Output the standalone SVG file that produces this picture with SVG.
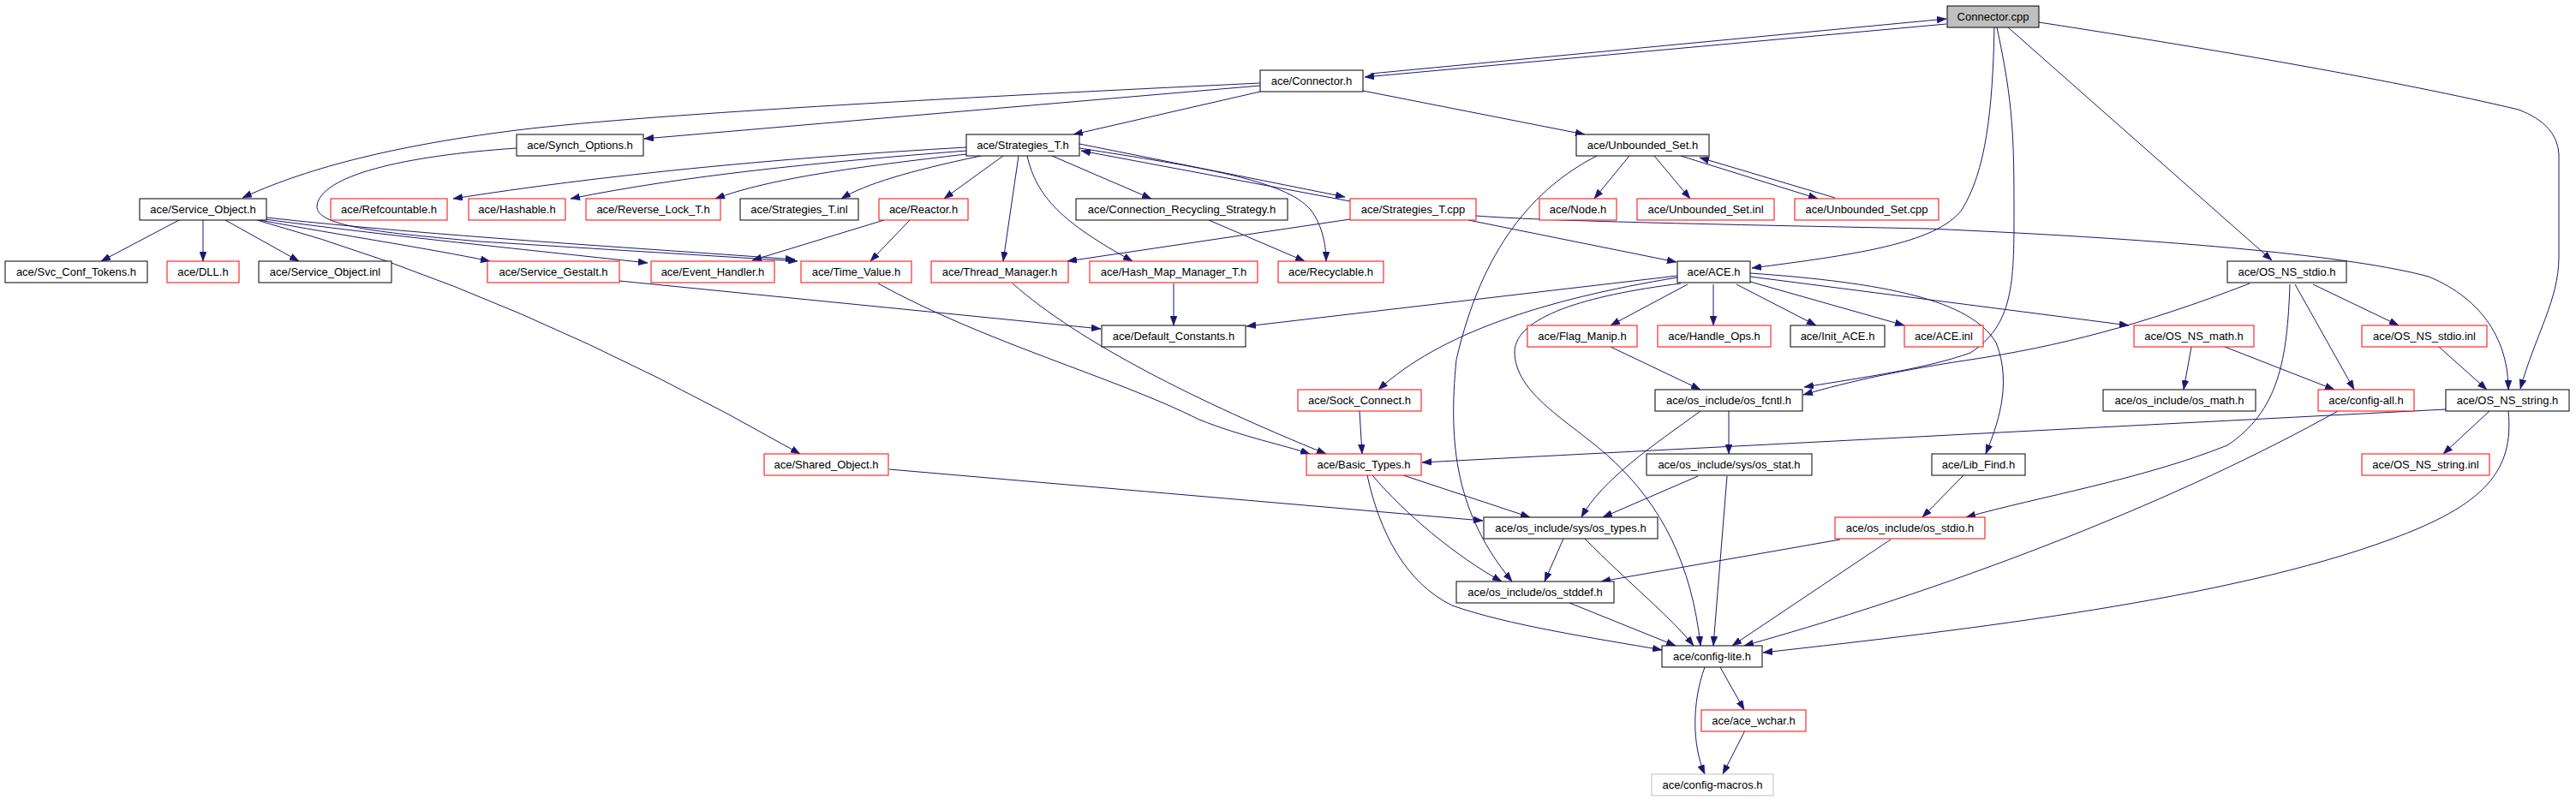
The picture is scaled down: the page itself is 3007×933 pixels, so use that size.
<svg xmlns="http://www.w3.org/2000/svg" width="3007" height="933" viewBox="0 0 3007 933">
<style>
.n rect{fill:#fff;stroke:#000;stroke-width:1}
.n.r rect{stroke:#f00}
.n.g rect{stroke:#bfbfbf}
.n.root rect{fill:#bfbfbf}
.n text{font-family:"Liberation Sans",Arial,sans-serif;font-size:13px;fill:#000;text-anchor:middle}
.e path{fill:none;stroke:#191970;stroke-width:1;marker-end:url(#a)}
</style>
<defs>
<marker id="a" markerWidth="11" markerHeight="8" refX="11" refY="4" orient="auto" markerUnits="userSpaceOnUse">
<path d="M0,0 L11,4 L0,8 z" fill="#191970" stroke="#191970" stroke-width="0.5"/>
</marker>
</defs>
<rect width="3007" height="933" fill="#fff"/>
<g class="e" id="edges">
<path d="M1600,86 L2272,22"/>
<path d="M2272,28 L1593,90"/>
<path d="M2328,32 C2326,130 2318,200 2290,245 C2260,285 2160,298 2045,313"/>
<path d="M2331,32 C2350,120 2351,160 2351,250 C2351,330 2350,380 2300,412 C2250,430 2180,440 2106,452"/>
<path d="M2344,32 L2652,304"/>
<path d="M2380,26 C2600,60 2800,95 2940,128 Q2985,145 2987,180 L2987,300 C2987,350 2960,390 2942,454"/>
<path d="M1471,97 C1200,110 800,130 620,150 C450,170 350,200 283,231"/>
<path d="M1471,100 L752,162"/>
<path d="M1471,107 L1253,157"/>
<path d="M1591,106 L1850,157"/>
<path d="M603,173 C470,182 375,205 370,240 C367,265 450,272 560,282 L931,305"/>
<path d="M209,257 L118,305"/>
<path d="M237,257 L237,305"/>
<path d="M263,257 L349,305"/>
<path d="M300,257 Q600,340 934,530"/>
<path d="M303,257 C400,275 500,290 572,305"/>
<path d="M309,256 C450,275 600,290 756,307"/>
<path d="M311,254 C500,275 750,290 928,303"/>
<path d="M1128,172 C900,185 700,205 529,232"/>
<path d="M1128,176 C950,190 800,205 666,232"/>
<path d="M1128,180 C1000,195 900,208 835,232"/>
<path d="M1145,182 C1060,200 1010,215 982,232"/>
<path d="M1171,182 L1102,232"/>
<path d="M1189,182 L1171,305"/>
<path d="M1199,182 C1210,230 1240,260 1322,305"/>
<path d="M1228,182 L1344,232"/>
<path d="M1260,168 L1570,230"/>
<path d="M1576,235 L1262,176"/>
<path d="M1260,173 C1400,195 1500,210 1530,245 C1545,265 1548,290 1548,305"/>
<path d="M1062,257 L1016,305"/>
<path d="M1032,257 L878,304"/>
<path d="M1902,182 L1861,232"/>
<path d="M1931,182 L1973,232"/>
<path d="M1962,182 L2122,232"/>
<path d="M2142,231 L1984,184"/>
<path d="M1864,182 C1790,220 1730,290 1700,420 C1690,520 1700,600 1765,679"/>
<path d="M1576,256 L1246,305"/>
<path d="M1714,257 L1957,306"/>
<path d="M1723,252 C1800,258 2000,262 2250,267 C2550,280 2750,300 2835,323 C2900,350 2928,400 2928,455"/>
<path d="M1411,257 L1523,305"/>
<path d="M1025,331 C1150,400 1300,440 1400,490 C1450,510 1500,520 1529,530"/>
<path d="M1182,331 C1260,400 1400,470 1548,530"/>
<path d="M1370,331 L1370,380"/>
<path d="M723,328 L1285,384"/>
<path d="M1958,322 L1455,381"/>
<path d="M1958,324 C1800,350 1680,390 1609,455"/>
<path d="M1962,331 C1850,345 1770,370 1768,410 C1768,460 1830,490 1880,535 C1940,590 1975,660 1985,754"/>
<path d="M1970,332 L1880,380"/>
<path d="M2000,332 L2000,380"/>
<path d="M2027,332 L2120,380"/>
<path d="M2043,329 L2223,380"/>
<path d="M2043,323 L2485,380"/>
<path d="M2043,319 C2200,330 2300,350 2330,400 C2350,450 2330,500 2318,530"/>
<path d="M2626,331 C2500,380 2400,405 2300,420 C2220,432 2160,445 2105,461"/>
<path d="M2673,332 C2670,420 2660,480 2600,520 C2500,560 2380,580 2295,604"/>
<path d="M2679,332 L2748,455"/>
<path d="M2700,332 L2800,380"/>
<path d="M2558,405 L2549,455"/>
<path d="M2597,405 L2725,455"/>
<path d="M2847,405 L2903,455"/>
<path d="M2906,480 L2852,530"/>
<path d="M2855,478 L1660,540"/>
<path d="M2928,480 C2935,550 2900,590 2790,630 C2600,700 2300,735 2058,762"/>
<path d="M1880,405 L1985,455"/>
<path d="M1587,480 L1590,530"/>
<path d="M2018,480 L2018,530"/>
<path d="M1985,480 C1930,520 1870,560 1846,604"/>
<path d="M2729,480 C2550,580 2300,680 2036,754"/>
<path d="M2292,555 L2244,604"/>
<path d="M1038,548 L1731,608"/>
<path d="M1638,555 L1786,604"/>
<path d="M1602,555 C1640,600 1700,650 1753,679"/>
<path d="M1596,555 C1610,620 1640,680 1695,707 C1760,730 1860,745 1940,759"/>
<path d="M1982,556 L1871,604"/>
<path d="M2016,556 L2000,754"/>
<path d="M1825,629 L1803,679"/>
<path d="M1850,629 C1900,680 1950,720 1977,754"/>
<path d="M2148,630 L1869,679"/>
<path d="M2207,630 L2022,754"/>
<path d="M1832,704 L1956,754"/>
<path d="M1990,779 C1975,820 1975,870 1990,904"/>
<path d="M2008,779 L2036,829"/>
<path d="M2037,853 L2011,904"/>
</g>
<g id="n_connector_cpp" class="n root"><rect x="2273" y="7" width="107" height="25"/><text x="2326.5" y="24">Connector.cpp</text></g>
<g id="n_connector_h" class="n"><rect x="1471" y="82" width="120" height="25"/><text x="1531" y="99">ace/Connector.h</text></g>
<g id="n_synch_options" class="n"><rect x="603" y="157" width="148" height="25"/><text x="677" y="174">ace/Synch_Options.h</text></g>
<g id="n_strategies_t_h" class="n"><rect x="1128" y="157" width="132" height="25"/><text x="1194" y="174">ace/Strategies_T.h</text></g>
<g id="n_unbounded_set_h" class="n"><rect x="1840" y="157" width="155" height="25"/><text x="1917.5" y="174">ace/Unbounded_Set.h</text></g>
<g id="n_service_object_h" class="n"><rect x="163" y="232" width="148" height="25"/><text x="237" y="249">ace/Service_Object.h</text></g>
<g id="n_refcountable" class="n r"><rect x="386" y="232" width="136" height="25"/><text x="454" y="249">ace/Refcountable.h</text></g>
<g id="n_hashable" class="n r"><rect x="547" y="232" width="113" height="25"/><text x="603.5" y="249">ace/Hashable.h</text></g>
<g id="n_reverse_lock" class="n r"><rect x="684" y="232" width="157" height="25"/><text x="762.5" y="249">ace/Reverse_Lock_T.h</text></g>
<g id="n_strategies_t_inl" class="n"><rect x="864" y="232" width="138" height="25"/><text x="933" y="249">ace/Strategies_T.inl</text></g>
<g id="n_reactor" class="n r"><rect x="1026" y="232" width="104" height="25"/><text x="1078" y="249">ace/Reactor.h</text></g>
<g id="n_conn_recycling" class="n"><rect x="1256" y="232" width="247" height="25"/><text x="1379.5" y="249">ace/Connection_Recycling_Strategy.h</text></g>
<g id="n_strategies_t_cpp" class="n r"><rect x="1576" y="232" width="147" height="25"/><text x="1649.5" y="249">ace/Strategies_T.cpp</text></g>
<g id="n_node" class="n r"><rect x="1797" y="232" width="90" height="25"/><text x="1842" y="249">ace/Node.h</text></g>
<g id="n_unbounded_set_inl" class="n r"><rect x="1911" y="232" width="160" height="25"/><text x="1991" y="249">ace/Unbounded_Set.inl</text></g>
<g id="n_unbounded_set_cpp" class="n r"><rect x="2095" y="232" width="168" height="25"/><text x="2179" y="249">ace/Unbounded_Set.cpp</text></g>
<g id="n_svc_conf_tokens" class="n"><rect x="6" y="305" width="166" height="25"/><text x="89" y="322">ace/Svc_Conf_Tokens.h</text></g>
<g id="n_dll" class="n r"><rect x="195" y="305" width="84" height="25"/><text x="237" y="322">ace/DLL.h</text></g>
<g id="n_service_object_inl" class="n"><rect x="302" y="305" width="155" height="25"/><text x="379.5" y="322">ace/Service_Object.inl</text></g>
<g id="n_service_gestalt" class="n r"><rect x="569" y="305" width="154" height="25"/><text x="646" y="322">ace/Service_Gestalt.h</text></g>
<g id="n_event_handler" class="n r"><rect x="760" y="305" width="144" height="25"/><text x="832" y="322">ace/Event_Handler.h</text></g>
<g id="n_time_value" class="n r"><rect x="935" y="305" width="129" height="25"/><text x="999.5" y="322">ace/Time_Value.h</text></g>
<g id="n_thread_manager" class="n r"><rect x="1087" y="305" width="160" height="25"/><text x="1167" y="322">ace/Thread_Manager.h</text></g>
<g id="n_hash_map" class="n r"><rect x="1272" y="305" width="196" height="25"/><text x="1370" y="322">ace/Hash_Map_Manager_T.h</text></g>
<g id="n_recyclable" class="n r"><rect x="1492" y="305" width="123" height="25"/><text x="1553.5" y="322">ace/Recyclable.h</text></g>
<g id="n_ace_h" class="n"><rect x="1958" y="305" width="85" height="25"/><text x="2000.5" y="322">ace/ACE.h</text></g>
<g id="n_os_ns_stdio_h" class="n"><rect x="2600" y="305" width="139" height="25"/><text x="2669.5" y="322">ace/OS_NS_stdio.h</text></g>
<g id="n_default_constants" class="n"><rect x="1286" y="380" width="168" height="25"/><text x="1370" y="397">ace/Default_Constants.h</text></g>
<g id="n_flag_manip" class="n r"><rect x="1783" y="380" width="128" height="25"/><text x="1847" y="397">ace/Flag_Manip.h</text></g>
<g id="n_handle_ops" class="n r"><rect x="1935" y="380" width="132" height="25"/><text x="2001" y="397">ace/Handle_Ops.h</text></g>
<g id="n_init_ace" class="n"><rect x="2090" y="380" width="110" height="25"/><text x="2145" y="397">ace/Init_ACE.h</text></g>
<g id="n_ace_inl" class="n r"><rect x="2223" y="380" width="92" height="25"/><text x="2269" y="397">ace/ACE.inl</text></g>
<g id="n_os_ns_math" class="n r"><rect x="2491" y="380" width="140" height="25"/><text x="2561" y="397">ace/OS_NS_math.h</text></g>
<g id="n_os_ns_stdio_inl" class="n r"><rect x="2757" y="380" width="146" height="25"/><text x="2830" y="397">ace/OS_NS_stdio.inl</text></g>
<g id="n_sock_connect" class="n r"><rect x="1515" y="455" width="144" height="25"/><text x="1587" y="472">ace/Sock_Connect.h</text></g>
<g id="n_os_fcntl" class="n"><rect x="1932" y="455" width="172" height="25"/><text x="2018" y="472">ace/os_include/os_fcntl.h</text></g>
<g id="n_os_math" class="n"><rect x="2455" y="455" width="178" height="25"/><text x="2544" y="472">ace/os_include/os_math.h</text></g>
<g id="n_config_all" class="n r"><rect x="2706" y="455" width="112" height="25"/><text x="2762" y="472">ace/config-all.h</text></g>
<g id="n_os_ns_string_h" class="n"><rect x="2855" y="455" width="144" height="25"/><text x="2927" y="472">ace/OS_NS_string.h</text></g>
<g id="n_shared_object" class="n r"><rect x="892" y="530" width="145" height="25"/><text x="964.5" y="547">ace/Shared_Object.h</text></g>
<g id="n_basic_types" class="n r"><rect x="1525" y="530" width="134" height="25"/><text x="1592" y="547">ace/Basic_Types.h</text></g>
<g id="n_os_stat" class="n"><rect x="1922" y="530" width="193" height="25"/><text x="2018.5" y="547">ace/os_include/sys/os_stat.h</text></g>
<g id="n_lib_find" class="n"><rect x="2255" y="530" width="109" height="25"/><text x="2309.5" y="547">ace/Lib_Find.h</text></g>
<g id="n_os_ns_string_inl" class="n r"><rect x="2757" y="530" width="149" height="25"/><text x="2831.5" y="547">ace/OS_NS_string.inl</text></g>
<g id="n_os_types" class="n"><rect x="1732" y="604" width="203" height="25"/><text x="1833.5" y="621">ace/os_include/sys/os_types.h</text></g>
<g id="n_os_stdio" class="n r"><rect x="2142" y="604" width="175" height="25"/><text x="2229.5" y="621">ace/os_include/os_stdio.h</text></g>
<g id="n_os_stddef" class="n"><rect x="1700" y="679" width="184" height="25"/><text x="1792" y="696">ace/os_include/os_stddef.h</text></g>
<g id="n_config_lite" class="n"><rect x="1940" y="754" width="117" height="25"/><text x="1998.5" y="771">ace/config-lite.h</text></g>
<g id="n_ace_wchar" class="n r"><rect x="1986" y="829" width="122" height="25"/><text x="2047" y="846">ace/ace_wchar.h</text></g>
<g id="n_config_macros" class="n g"><rect x="1928" y="904" width="142" height="25"/><text x="1999" y="921">ace/config-macros.h</text></g>
</svg>
